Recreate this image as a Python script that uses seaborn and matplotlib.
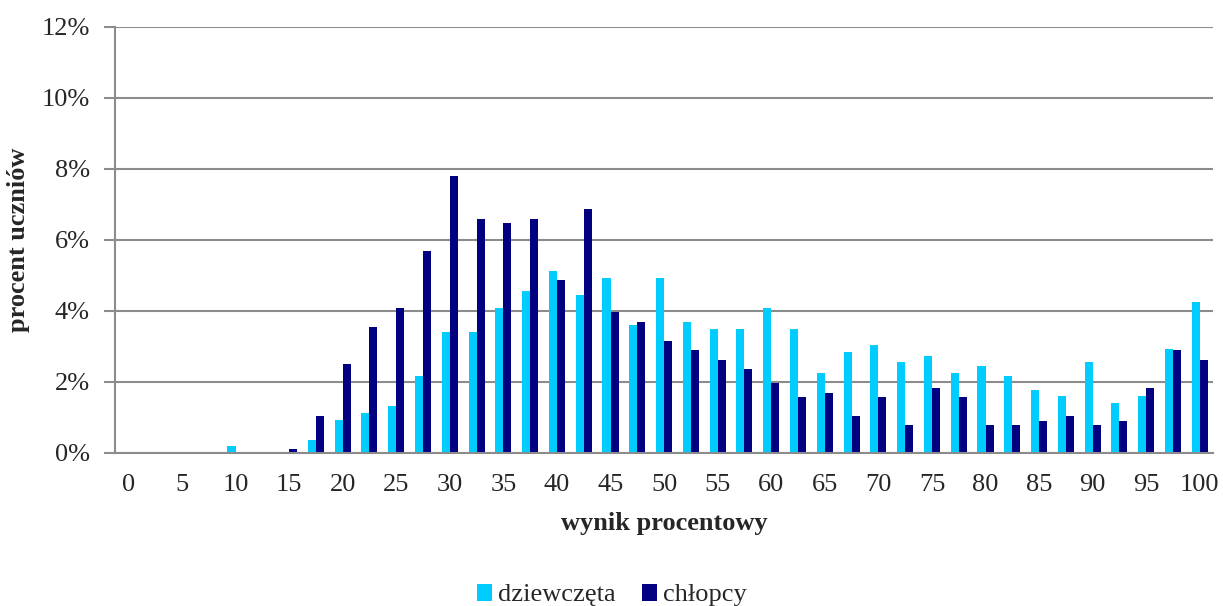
import matplotlib
matplotlib.use("Agg")
import matplotlib.pyplot as plt
import seaborn as sns
import pandas as pd
from matplotlib.ticker import FuncFormatter

scores = ["0", "2.5", "5", "7.5", "10", "12.5", "15", "17.5", "20", "22.5",
          "25", "27.5", "30", "32.5", "35", "37.5", "40", "42.5", "45", "47.5",
          "50", "52.5", "55", "57.5", "60", "62.5", "65", "67.5", "70", "72.5",
          "75", "77.5", "80", "82.5", "85", "87.5", "90", "92.5", "95", "97.5", "100"]

girls = [0, 0, 0, 0, 0.19, 0, 0, 0.36, 0.93, 1.12,
         1.31, 2.17, 3.41, 3.41, 4.08, 4.55, 5.12, 4.46, 4.94, 3.60,
         4.94, 3.70, 3.50, 3.50, 4.08, 3.50, 2.26, 2.84, 3.03, 2.55,
         2.74, 2.26, 2.45, 2.17, 1.78, 1.60, 2.55, 1.40, 1.60, 2.93, 4.26]

boys = [0, 0, 0, 0, 0, 0, 0.10, 1.04, 2.50, 3.56,
        4.08, 5.68, 7.79, 6.59, 6.47, 6.60, 4.88, 6.86, 3.96, 3.69,
        3.16, 2.89, 2.63, 2.37, 1.97, 1.57, 1.70, 1.04, 1.57, 0.78,
        1.84, 1.57, 0.78, 0.78, 0.90, 1.04, 0.78, 0.90, 1.84, 2.89, 2.63]

series_names = ["dziewczęta", "chłopcy"]
tick_labels = ["0", "5", "10", "15", "20", "25", "30", "35", "40", "45", "50",
               "55", "60", "65", "70", "75", "80", "85", "90", "95", "100"]
y_ticks = [0, 2, 4, 6, 8, 10, 12]

df = pd.DataFrame({
    "wynik": scores * 2,
    "procent": girls + boys,
    "grupa": [series_names[0]] * len(scores) + [series_names[1]] * len(scores),
})

sns.set_theme(style="white")
plt.rcParams["font.family"] = ["Liberation Serif", "DejaVu Serif"]

fig = plt.figure(figsize=(12.23, 6.06), dpi=100)
ax = fig.add_axes([0.094, 0.2525, 0.898, 0.703])

palette = {series_names[0]: "#00CCFF", series_names[1]: "#000080"}
sns.barplot(data=df, x="wynik", y="procent", hue="grupa", order=scores,
            hue_order=series_names, palette=palette, width=0.6, gap=0,
            saturation=1, linewidth=0, ax=ax, legend=True)

ax.set_ylim(0, 12)
ax.set_xlim(-0.5, len(scores) - 0.5)
ax.set_yticks(y_ticks)
ax.yaxis.set_major_formatter(FuncFormatter(lambda v, p: f"{v:.0f}%"))
ax.set_xticks(range(0, len(scores), 2))
ax.set_xticklabels(tick_labels)

ax.grid(axis="y", color="#8c8c8c", linewidth=1.5)
ax.set_axisbelow(True)
for s in ["top", "right"]:
    ax.spines[s].set_visible(False)
for s in ["left", "bottom"]:
    ax.spines[s].set_color("#8c8c8c")
    ax.spines[s].set_linewidth(1.5)

ax.tick_params(axis="y", which="major", left=True, length=8, width=1.5,
               color="#8c8c8c", labelsize=19, pad=10, direction="out")
ax.tick_params(axis="x", bottom=False, labelsize=19, pad=9)

ax.set_xlabel("wynik procentowy", fontsize=19, fontweight="bold", labelpad=12)
ax.set_ylabel("procent uczniów", fontsize=19, fontweight="bold", labelpad=8)

handles, labels = ax.get_legend_handles_labels()
ax.get_legend().remove()
fig.legend(handles, labels, loc="lower center", bbox_to_anchor=(0.5, -0.04),
           ncol=2, frameon=False, fontsize=19, handlelength=0.6,
           handleheight=0.6, handletextpad=0.2, columnspacing=1.0)

fig.savefig("out.png", dpi=100)
